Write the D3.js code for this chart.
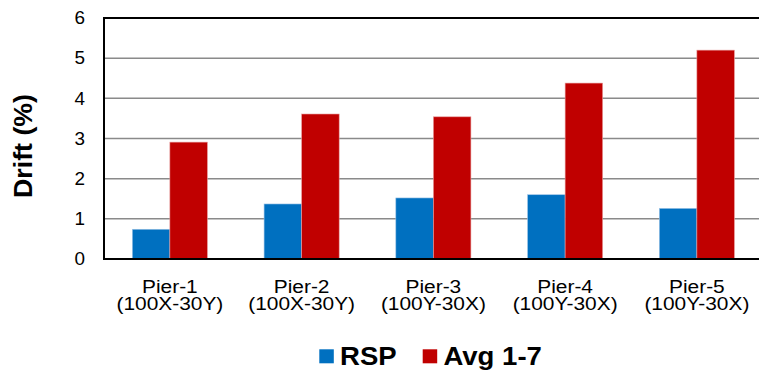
<!DOCTYPE html>
<html>
<head>
<meta charset="utf-8">
<script src="https://cdn.jsdelivr.net/npm/d3@7"></script>
<style>
  html, body { margin: 0; padding: 0; background: #fff; }
  svg { display: block; }
  text { font-family: "Liberation Sans", Arial, sans-serif; fill: #000; }
</style>
</head>
<body>
<svg id="chart" width="759" height="372"></svg>
<script>
const categories = ["Pier-1", "Pier-2", "Pier-3", "Pier-4", "Pier-5"];
const subLabels = ["(100X-30Y)", "(100X-30Y)", "(100Y-30X)", "(100Y-30X)", "(100Y-30X)"];
const seriesNames = ["RSP", "Avg 1-7"];
const rspValues = [0.74, 1.37, 1.52, 1.60, 1.26];
const avgValues = [2.91, 3.61, 3.54, 4.38, 5.20];
const yTicks = [0, 1, 2, 3, 4, 5, 6];
const colors = ["#0070C0", "#C00000"];

const svg = d3.select("#chart");
const mLeft = 104, mRight = 762.75, mTop = 18, mBottom = 259;

const x0 = d3.scaleBand().domain(categories).range([mLeft, mRight]).paddingInner(0.43).paddingOuter(0.215);
const x1 = d3.scaleBand().domain(seriesNames).range([0, x0.bandwidth()]);
const y = d3.scaleLinear().domain([0, 6]).range([mBottom, mTop]);

// gridlines
svg.append("g").selectAll("line").data(yTicks.filter(t => t > 0 && t < 6)).join("line")
  .attr("x1", mLeft).attr("x2", mRight)
  .attr("y1", d => y(d)).attr("y2", d => y(d))
  .attr("stroke", "#8a8a8a").attr("stroke-width", 1.5);

// bars
const data = categories.map((c, i) => ({ cat: c, vals: [rspValues[i], avgValues[i]] }));
const g = svg.append("g").selectAll("g").data(data).join("g")
  .attr("transform", d => `translate(${x0(d.cat)},0)`);
g.selectAll("rect").data(d => d.vals.map((v, j) => ({ s: seriesNames[j], v, j }))).join("rect")
  .attr("x", d => x1(d.s))
  .attr("width", x1.bandwidth())
  .attr("y", d => y(d.v))
  .attr("height", d => y(0) - y(d.v))
  .attr("fill", d => colors[d.j])
  .attr("stroke", d => d.j === 0 ? "#9cc3e6" : "#e8a0a0")
  .attr("stroke-width", 0.6);

// frame: top, left, bottom
svg.append("line").attr("x1", mLeft).attr("x2", mRight).attr("y1", y(6)).attr("y2", y(6)).attr("stroke", "#000").attr("stroke-width", 2);
svg.append("line").attr("x1", mLeft).attr("x2", mRight).attr("y1", y(0)).attr("y2", y(0)).attr("stroke", "#000").attr("stroke-width", 2);
svg.append("line").attr("x1", mLeft).attr("x2", mLeft).attr("y1", mTop - 1).attr("y2", mBottom + 1).attr("stroke", "#000").attr("stroke-width", 2);

// y tick labels
svg.append("g").selectAll("text").data(yTicks).join("text")
  .attr("transform", d => `translate(85,${y(d)}) scale(1.05,1)`)
  .attr("dy", "0.35em")
  .attr("text-anchor", "end").style("font-size", "18px")
  .text(d => d);

// y title
svg.append("text")
  .attr("transform", `translate(31.5,146) rotate(-90) scale(1.07,1)`)
  .attr("text-anchor", "middle")
  .style("font-size", "25px").style("font-weight", "bold")
  .text("Drift (%)");

// category labels
const cl = svg.append("g").selectAll("text").data(categories).join("text")
  .attr("transform", d => `translate(${x0(d) + x0.bandwidth() / 2},292.7) scale(1.1,1)`)
  .attr("text-anchor", "middle").style("font-size", "19px");
cl.append("tspan").attr("x", 0).attr("y", 0).text(d => d);
cl.append("tspan").attr("x", 0).attr("y", 16.8).text((d, i) => subLabels[i]);

// legend
const legX = [319.3, 422.7];
const leg = svg.append("g").selectAll("g").data(seriesNames).join("g");
leg.append("rect").attr("x", (d, i) => legX[i]).attr("y", 349.3).attr("width", 14.5).attr("height", 14)
  .attr("fill", (d, i) => colors[i]);
leg.append("text")
  .attr("transform", (d, i) => `translate(${legX[i] + 20.7},365) scale(1.06,1)`)
  .style("font-size", "26px").style("font-weight", "bold").text(d => d);
</script>
</body>
</html>
